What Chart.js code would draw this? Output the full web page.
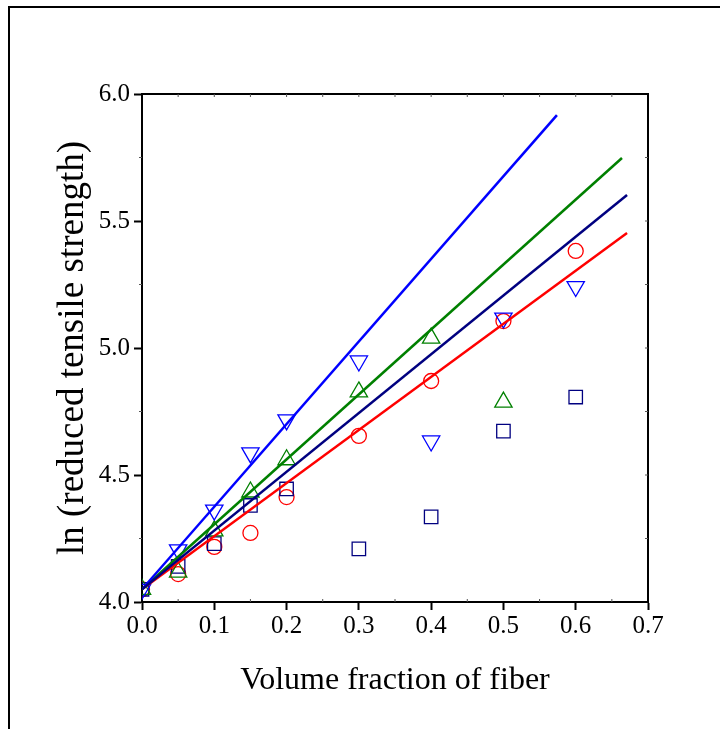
<!DOCTYPE html>
<html>
<head>
<meta charset="utf-8">
<script src="https://cdn.jsdelivr.net/npm/chart.js@4/dist/chart.umd.min.js"></script>
<style>
html,body{margin:0;padding:0;background:#fff;}
canvas{display:block;}
</style>
</head>
<body>
<canvas id="c" width="720" height="729"></canvas>
<script>
// ---- data ----
const fractions = [0, 0.05, 0.1, 0.15, 0.2, 0.3, 0.4, 0.5, 0.6];
const downTriangleValues = [4.05, 4.205, 4.362, 4.587, 4.717, 4.949, 4.634, 5.118, 5.242];
const upTriangleFractions = [0, 0.05, 0.1, 0.15, 0.2, 0.3, 0.4, 0.5];
const upTriangleValues = [4.05, 4.118, 4.28, 4.433, 4.56, 4.827, 5.039, 4.787];
const squareValues = [4.05, 4.14, 4.23, 4.38, 4.445, 4.209, 4.335, 4.673, 4.807];
const circleValues = [4.05, 4.11, 4.217, 4.272, 4.413, 4.654, 4.870, 5.106, 5.382];
// fitted lines: [start fraction, start value, end fraction, end value]
const blueFit = [0, 4.05, 0.574, 5.917];
const greenFit = [0, 4.05, 0.664, 5.748];
const navyFit = [0, 4.05, 0.671, 5.602];
const redFit = [0, 4.05, 0.671, 5.453];
const xTicks = [0, 0.1, 0.2, 0.3, 0.4, 0.5, 0.6, 0.7];
const yTicks = [4.0, 4.5, 5.0, 5.5, 6.0];
const xTitle = 'Volume fraction of fiber';
const yTitle = 'ln (reduced tensile strength)';

const pts = (xs, ys) => xs.map((x, i) => ({x: x, y: ys[i]}));
const fit = f => [{x: f[0], y: f[1]}, {x: f[2], y: f[3]}];

const BLUE = '#0000FF', GREEN = '#008000', NAVY = '#000080', RED = '#FF0000';
const FONT = '"Liberation Serif", "Times New Roman", serif';

const lineDs = (data, color) => ({
  type: 'line', data: data, borderColor: color, borderWidth: 2.5,
  pointRadius: 0, fill: false, tension: 0, showLine: true
});
const markDs = (data, color, style, radius, rotation) => ({
  type: 'scatter', data: data, borderColor: color, backgroundColor: 'rgba(0,0,0,0)',
  pointStyle: style, pointRadius: radius, pointHoverRadius: radius,
  pointBorderWidth: 1.3, pointRotation: rotation || 0, showLine: false
});

const frame = {
  id: 'frame',
  afterDraw(chart) {
    const ctx = chart.ctx, a = chart.chartArea;
    const xs = chart.scales.x, ys = chart.scales.y;
    ctx.save();
    // outer frame (left and top)
    ctx.strokeStyle = '#000'; ctx.lineWidth = 2;
    ctx.beginPath();
    ctx.moveTo(9, 729); ctx.lineTo(9, 7); ctx.lineTo(720, 7);
    ctx.stroke();
    // top and right axis lines
    ctx.beginPath();
    ctx.moveTo(a.left, a.top); ctx.lineTo(a.right, a.top); ctx.lineTo(a.right, a.bottom);
    ctx.stroke();
    // minor ticks
    ctx.strokeStyle = '#555'; ctx.lineWidth = 1;
    ctx.beginPath();
    for (let i = 1; i < 14; i++) {
      const px = xs.getPixelForValue(i * 0.05);
      ctx.moveTo(px, a.top); ctx.lineTo(px, a.top + 3);
      if (i % 2 === 1) { ctx.moveTo(px, a.bottom); ctx.lineTo(px, a.bottom - 3); }
    }
    for (let i = 1; i < 8; i++) {
      const py = ys.getPixelForValue(4 + i * 0.25);
      ctx.moveTo(a.right, py); ctx.lineTo(a.right - 3, py);
      if (i % 2 === 1) { ctx.moveTo(a.left, py); ctx.lineTo(a.left - 3, py); }
    }
    ctx.stroke();
    ctx.restore();
  }
};

new Chart(document.getElementById('c'), {
  type: 'scatter',
  data: {
    datasets: [
      lineDs(fit(navyFit), NAVY),
      lineDs(fit(blueFit), BLUE),
      lineDs(fit(greenFit), GREEN),
      lineDs(fit(redFit), RED),
      markDs(pts(fractions, downTriangleValues), BLUE, 'triangle', 10, 180),
      markDs(pts(upTriangleFractions, upTriangleValues), GREEN, 'triangle', 10, 0),
      markDs(pts(fractions, squareValues), NAVY, 'rect', 9.5, 0),
      markDs(pts(fractions, circleValues), RED, 'circle', 7.5, 0)
    ]
  },
  options: {
    responsive: false,
    animation: false,
    devicePixelRatio: 1,
    layout: {padding: {left: 0, top: 94, right: 72, bottom: 0}},
    plugins: {legend: {display: false}, tooltip: {enabled: false}},
    scales: {
      x: {
        type: 'linear', min: 0, max: 0.7,
        afterBuildTicks: s => { s.ticks = xTicks.map(v => ({value: v})); },
        afterFit: s => { s.height = 729 - 602; },
        ticks: {
          color: '#000', font: {family: FONT, size: 25}, padding: 1,
          callback: v => Number(v).toFixed(1), maxRotation: 0, autoSkip: false
        },
        grid: {drawOnChartArea: false, drawTicks: true, tickLength: 8, tickWidth: 2, tickColor: '#000'},
        border: {display: true, color: '#000', width: 2},
        title: {display: true, text: xTitle, color: '#000', font: {family: FONT, size: 32}, padding: {top: 0, bottom: 29}}
      },
      y: {
        type: 'linear', min: 4, max: 6,
        afterBuildTicks: s => { s.ticks = yTicks.map(v => ({value: v})); },
        afterFit: s => { s.width = 142; },
        ticks: {
          color: '#000', font: {family: FONT, size: 25}, padding: 4,
          callback: v => Number(v).toFixed(1), autoSkip: false
        },
        grid: {drawOnChartArea: false, drawTicks: true, tickLength: 8, tickWidth: 2, tickColor: '#000'},
        border: {display: true, color: '#000', width: 2},
        title: {display: true, text: yTitle, color: '#000', font: {family: FONT, size: 37}, padding: {top: 51, bottom: 0}}
      }
    }
  },
  plugins: [frame]
});
</script>
</body>
</html>
